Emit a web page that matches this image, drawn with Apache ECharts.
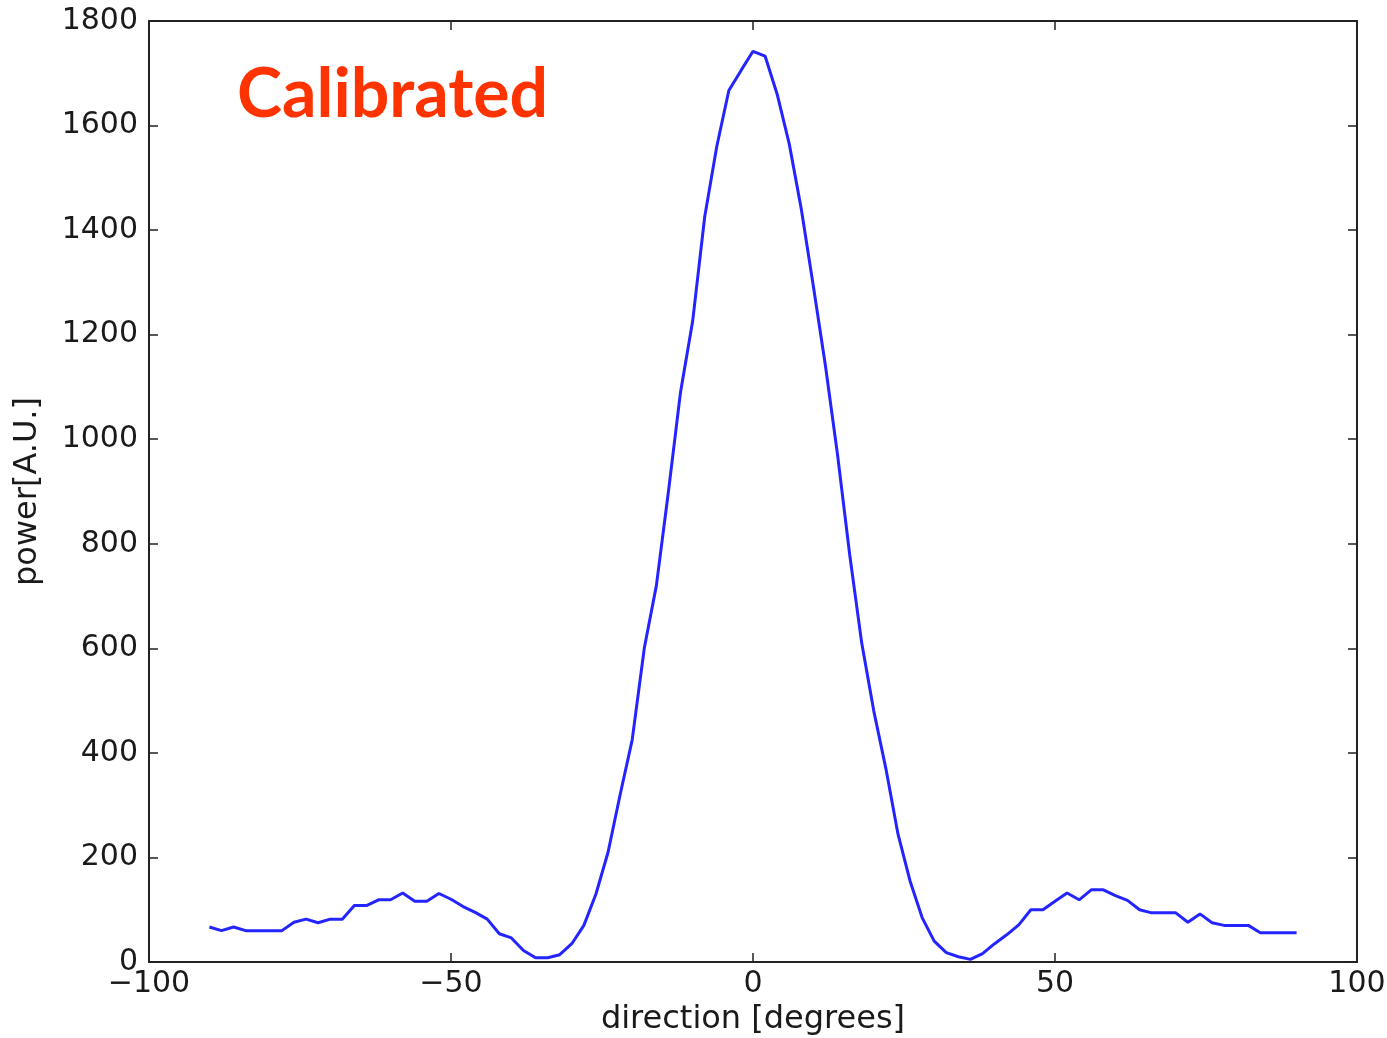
<!DOCTYPE html>
<html>
<head>
<meta charset="utf-8">
<script src="https://cdn.jsdelivr.net/npm/echarts@6/dist/echarts.min.js"></script>
<style>
  html, body { margin: 0; padding: 0; background: #fff; }
  #chart { width: 1387px; height: 1038px; }
</style>
</head>
<body>
<div id="chart"></div>
<script>
// direction in degrees, sampled every 2 degrees
const directions = [
  -90, -88, -86, -84, -82, -80, -78, -76, -74, -72,
  -70, -68, -66, -64, -62, -60, -58, -56, -54, -52,
  -50, -48, -46, -44, -42, -40, -38, -36, -34, -32,
  -30, -28, -26, -24, -22, -20, -18, -16, -14, -12,
  -10, -8, -6, -4, -2, 0, 2, 4, 6, 8,
  10, 12, 14, 16, 18, 20, 22, 24, 26, 28,
  30, 32, 34, 36, 38, 40, 42, 44, 46, 48,
  50, 52, 54, 56, 58, 60, 62, 64, 66, 68,
  70, 72, 74, 76, 78, 80, 82, 84, 86, 88,
  90
];
// power [A.U.]
const power = [
  67, 60, 67, 60, 60, 60, 60, 76, 82, 75,
  82, 82, 108, 108, 119, 119, 132, 116, 116, 131,
  120, 106, 95, 82, 54, 46, 22, 8, 8, 14,
  35, 70, 130, 210, 320, 425, 600, 720, 900, 1090,
  1225, 1425, 1560, 1667, 1705, 1742, 1733, 1660, 1565, 1440,
  1292, 1140, 970, 780, 610, 480, 370, 245, 155, 85,
  40, 18, 10, 5, 16, 35, 52, 71, 100, 100,
  116, 132, 119, 138, 138, 127, 118, 100, 94, 94,
  94, 76, 92, 75, 70, 70, 70, 56, 56, 56,
  56
];
const xTicks = [-100, -50, 0, 50, 100];
const yTicks = [0, 200, 400, 600, 800, 1000, 1200, 1400, 1600, 1800];

const chart = echarts.init(document.getElementById('chart'));
const fmt = v => String(v).replace('-', '\u2212');
const axisColor = '#222';
const tickFont = { fontFamily: 'DejaVu Sans', fontSize: 30, color: '#1a1a1a' };
const nameFont = { fontFamily: 'DejaVu Sans', fontSize: 32, color: '#1a1a1a' };

const option = {
  animation: false,
  backgroundColor: '#fff',
  title: {
    text: 'Calibrated',
    left: 232,
    top: 56,
    textStyle: { fontFamily: 'Lato', fontWeight: 'bold', fontSize: 68, color: '#ff3300' }
  },
  grid: { left: 149, right: 30, top: 21, bottom: 76, containLabel: false, outerBoundsMode: 'none' },
  xAxis: [
    {
      type: 'value', min: xTicks[0], max: xTicks[xTicks.length - 1], interval: 50,
      name: 'direction [degrees]', nameLocation: 'middle', nameGap: 42,
      nameTextStyle: nameFont,
      axisLine: { show: true, onZero: false, lineStyle: { color: axisColor, width: 2 } },
      axisTick: { show: true, inside: true, length: 9, lineStyle: { color: axisColor, width: 1.5 } },
      axisLabel: { ...tickFont, margin: 7, formatter: fmt, showMinLabel: true, showMaxLabel: true },
      splitLine: { show: false }
    },
    {
      type: 'value', position: 'top', min: xTicks[0], max: xTicks[xTicks.length - 1], interval: 50,
      axisLine: { show: true, onZero: false, lineStyle: { color: axisColor, width: 2 } },
      axisTick: { show: true, inside: true, length: 9, lineStyle: { color: axisColor, width: 1.5 } },
      axisLabel: { show: false },
      splitLine: { show: false }
    }
  ],
  yAxis: [
    {
      type: 'value', min: yTicks[0], max: yTicks[yTicks.length - 1], interval: 200,
      name: 'power[A.U.]', nameLocation: 'middle', nameGap: 105,
      nameTextStyle: nameFont,
      axisLine: { show: true, onZero: false, lineStyle: { color: axisColor, width: 2 } },
      axisTick: { show: true, inside: true, length: 9, lineStyle: { color: axisColor, width: 1.5 } },
      axisLabel: { ...tickFont, margin: 11, formatter: v => String(v) },
      splitLine: { show: false }
    },
    {
      type: 'value', position: 'right', min: yTicks[0], max: yTicks[yTicks.length - 1], interval: 200,
      axisLine: { show: true, onZero: false, lineStyle: { color: axisColor, width: 2 } },
      axisTick: { show: true, inside: true, length: 9, lineStyle: { color: axisColor, width: 1.5 } },
      axisLabel: { show: false },
      splitLine: { show: false }
    }
  ],
  series: [
    {
      type: 'line',
      data: directions.map((d, i) => [d, power[i]]),
      showSymbol: false,
      lineStyle: { color: '#2424ff', width: 3 },
      itemStyle: { color: '#2424ff' }
    }
  ]
};
chart.setOption(option);
</script>
</body>
</html>
